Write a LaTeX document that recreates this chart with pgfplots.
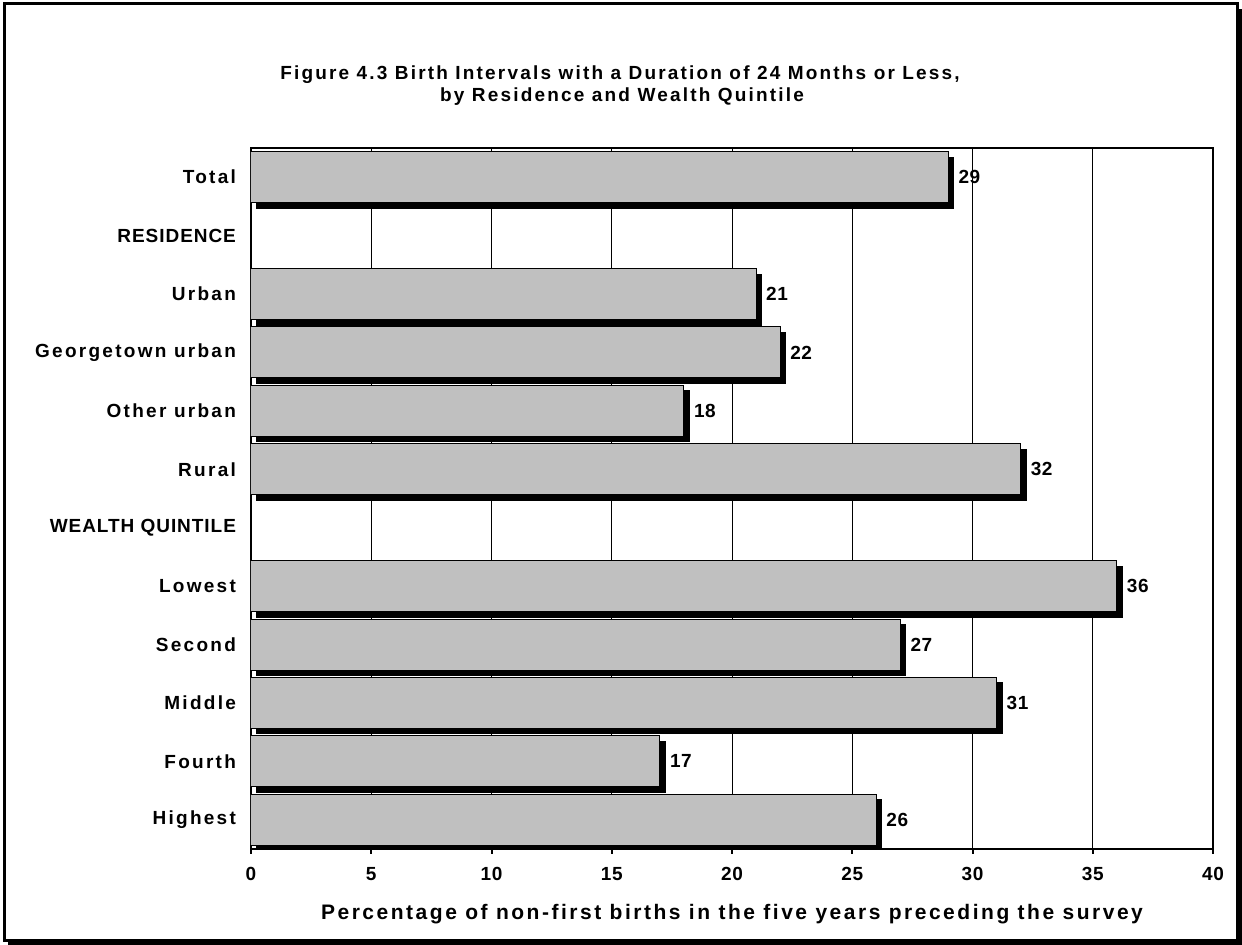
\documentclass[border=0pt]{standalone}
\usepackage{fontspec}
\setmainfont{Liberation Sans}
\newfontfamily\lsfont[LetterSpace=12]{Liberation Sans}
\newfontfamily\tfont[LetterSpace=11.5]{Liberation Sans}
\newfontfamily\capfont[LetterSpace=5]{Liberation Sans}
\newfontfamily\numfont[LetterSpace=3]{Liberation Sans}
\usepackage{pgfplots}
\pgfplotsset{compat=1.18}
\definecolor{bargray}{RGB}{192,192,192}
\begin{document}
\begin{tikzpicture}
\useasboundingbox (0pt,0pt) rectangle (621pt,472.5pt);
\fill[black] (4pt,0pt) rectangle (621pt,468pt);
\filldraw[fill=white,draw=black,line width=1.5pt] (2.25pt,2.25pt) rectangle (618.75pt,470.75pt);
\node[font=\tfont\bfseries\fontsize{9.5}{10}\selectfont] at (310pt,435pt) {Figure 4.3 Birth Intervals with a Duration of 24 Months or Less,};
\node[font=\tfont\bfseries\fontsize{9.5}{10}\selectfont] at (311pt,424pt) {by Residence and Wealth Quintile};
\begin{axis}[
  at={(125.5pt,48pt)}, anchor=south west,
  scale only axis, width=481pt, height=350.5pt,
  xmin=0, xmax=40, ymin=-0.5, ymax=11.5,
  /pgf/number format/assume math mode=true,
  xtick={0,5,...,40},
  xticklabels={0,5,10,15,20,25,30,35,40},
  xticklabel style={font=\numfont\bfseries\fontsize{9.5}{10}\selectfont, yshift=-3pt},
  xtick pos=bottom, tick align=outside,
  major tick length=2.5pt,
  x tick style={black, line width=1pt},
  ytick={0,...,11},
  yticklabels={Highest,Fourth,Middle,Second,Lowest,{\capfont\bfseries WEALTH QUINTILE},Rural,Other urban,Georgetown urban,Urban,{\capfont\bfseries RESIDENCE},Total},
  yticklabel style={font=\lsfont\bfseries\fontsize{9.5}{10}\selectfont, xshift=-1.5pt},
  y tick style={draw=none},
  xmajorgrids, grid style={black, line width=0.5pt},
  axis line style={black, line width=1pt},
  xlabel={Percentage of non-first births in the five years preceding the survey},
  xlabel style={font=\lsfont\bfseries\fontsize{10.5}{12}\selectfont, yshift=-5pt},
  xbar, bar width=25.5pt,
  nodes near coords,
  nodes near coords style={font=\numfont\bfseries\fontsize{9.5}{10}\selectfont, anchor=west, xshift=1.5pt, black},
]
\addplot[fill=bargray, draw=black, line width=0.5pt,
  preaction={fill=black, draw=black, transform canvas={shift={(2.75pt,-2.75pt)}}}]
  coordinates {(29,11) (21,9) (22,8) (18,7) (32,6) (36,4) (27,3) (31,2) (17,1) (26,0)};
\end{axis}
\end{tikzpicture}
\end{document}
